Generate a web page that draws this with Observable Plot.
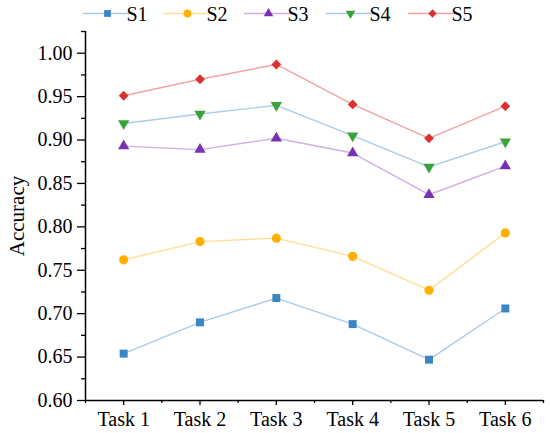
<!DOCTYPE html>
<html>
<head>
<meta charset="utf-8">
<script src="https://cdn.jsdelivr.net/npm/d3@7"></script>
<script src="https://cdn.jsdelivr.net/npm/@observablehq/plot@0.6"></script>
<style>
  html, body { margin: 0; padding: 0; background: #fff; }
  #chart { position: relative; width: 550px; height: 433px; }
</style>
</head>
<body>
<div id="chart"></div>
<script>
const tasks = ["Task 1", "Task 2", "Task 3", "Task 4", "Task 5", "Task 6"];
const seriesNames = ["S1", "S2", "S3", "S4", "S5"];
const s1 = [0.654, 0.690, 0.718, 0.688, 0.647, 0.706];
const s2 = [0.762, 0.783, 0.787, 0.766, 0.727, 0.793];
const s3 = [0.893, 0.889, 0.902, 0.885, 0.837, 0.870];
const s4 = [0.919, 0.930, 0.940, 0.905, 0.869, 0.898];
const s5 = [0.951, 0.970, 0.987, 0.941, 0.902, 0.939];
const yMajor = [0.60, 0.65, 0.70, 0.75, 0.80, 0.85, 0.90, 0.95, 1.00];
const yMinor = [0.625, 0.675, 0.725, 0.775, 0.825, 0.875, 0.925, 0.975, 1.025];

const values = [s1, s2, s3, s4, s5];
const markerColors = ["#3a86c5", "#ffb000", "#7b2fb2", "#38a33a", "#dc2f2f"];
const lineColors = ["#aacbe8", "#ffde95", "#d2aee4", "#aacbe8", "#f3a2a2"];
const symbols = ["square", "circle", "triangle", "triangle", "diamond2"];
const rotations = [0, 0, 0, 180, 0];
const radii = [4.5, 4.6, 4.2, 4.2, 4.4];

const xPos = tasks.map((t, i) => i + 1);
const xMinor = [0.5, 1.5, 2.5, 3.5, 4.5, 5.5, 6.5];

const data = [];
seriesNames.forEach((s, k) => {
  tasks.forEach((t, i) => data.push({series: s, k, x: i + 1, y: values[k][i]}));
});

const font = "'Liberation Serif', 'Times New Roman', serif";

const marks = [];
seriesNames.forEach((s, k) => {
  const d = data.filter(r => r.k === k);
  marks.push(Plot.line(d, {x: "x", y: "y", stroke: lineColors[k], strokeWidth: 1.4}));
});
seriesNames.forEach((s, k) => {
  const d = data.filter(r => r.k === k);
  marks.push(Plot.dot(d, {x: "x", y: "y", symbol: symbols[k], fill: markerColors[k], r: radii[k], rotate: rotations[k]}));
});

const plot = Plot.plot({
  width: 550,
  height: 433,
  marginLeft: 85,
  marginRight: 7,
  marginTop: 31,
  marginBottom: 33,
  style: {fontFamily: font, fontSize: "20px", color: "#000", background: "#fff"},
  x: {domain: [0.5, 6.5]},
  y: {domain: [0.6, 1.025]},
  marks: [
    ...marks,
    Plot.ruleX([0.5], {y1: 0.6, y2: 1.025, stroke: "#000", strokeWidth: 1.5}),
    Plot.ruleY([0.6], {x1: 0.5, x2: 6.5, stroke: "#000", strokeWidth: 1.5}),
    Plot.axisY({ticks: yMajor, tickFormat: d3.format(".2f"), tickSize: 8, tickPadding: 5, strokeWidth: 1.3, label: null, fontSize: 20}),
    Plot.axisY({ticks: yMinor, tickSize: 4, strokeWidth: 1.3, text: null, label: null}),
    Plot.axisX({ticks: xPos, tickFormat: d => tasks[d - 1], tickSize: 5, tickPadding: 6, strokeWidth: 1.3, label: null, fontSize: 20}),
    Plot.axisX({ticks: xMinor, tickSize: 3, strokeWidth: 1.3, text: null, label: null}),
    Plot.text(["Accuracy"], {frameAnchor: "left", dx: -68, rotate: -90, textAnchor: "middle", lineAnchor: "middle", fontSize: 21, fill: "#000"})
  ]
});

// Legend drawn into the top of the SVG
const svg = d3.select(plot);
const lg = svg.append("g").attr("font-family", font).attr("font-size", 20);
const legendStart = [83, 163, 244, 326, 408];
seriesNames.forEach((s, k) => {
  const x0 = legendStart[k];
  const g = lg.append("g").attr("transform", `translate(${x0},13.5)`);
  g.append("line").attr("x1", 0).attr("x2", 49).attr("y1", 0).attr("y2", 0)
    .attr("stroke", lineColors[k]).attr("stroke-width", 1.3);
  const symMap = {square: d3.symbolSquare, circle: d3.symbolCircle, triangle: d3.symbolTriangle, diamond2: d3.symbolDiamond2};
  const r = radii[k] * 0.85;
  g.append("path")
    .attr("d", d3.symbol(symMap[symbols[k]], Math.PI * r * r)())
    .attr("transform", `translate(24.5,0) rotate(${rotations[k]})`)
    .attr("fill", markerColors[k]);
  g.append("text").attr("x", 54).attr("y", 7.5).attr("fill", "#000").text(s);
});

document.getElementById("chart").appendChild(plot);
</script>
</body>
</html>
